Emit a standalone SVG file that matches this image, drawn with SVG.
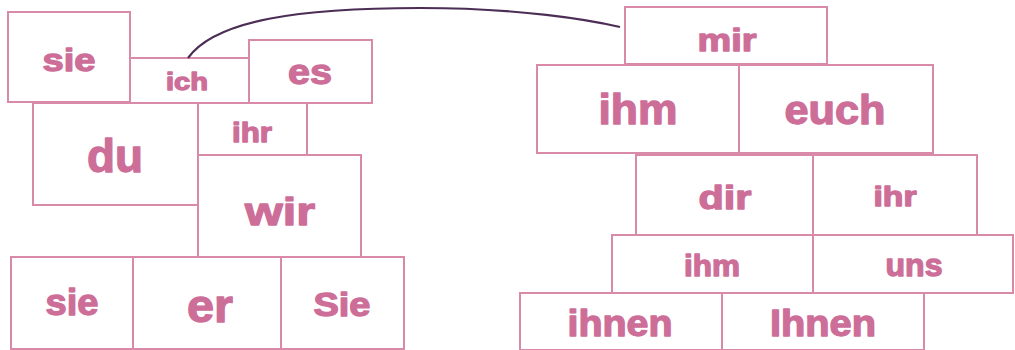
<svg xmlns="http://www.w3.org/2000/svg" width="1015" height="350" viewBox="0 0 1015 350">
<style>
.b{fill:#fff;stroke:#d98aa9;stroke-width:2}
.t{font-family:"Liberation Sans",Arial,sans-serif;font-weight:bold;fill:#cd6e99;stroke:#cd6e99;stroke-width:1.3;stroke-linejoin:round;text-anchor:middle}
.c{fill:none;stroke:#4b2d55;stroke-width:2.2}
</style>
<rect width="1015" height="350" fill="#fff"/>
<g id="sie1"><rect class="b" x="8" y="12" width="122" height="90"/><text class="t" x="69" y="71" font-size="32" textLength="53" lengthAdjust="spacingAndGlyphs">sie</text></g>
<g id="ich"><rect class="b" x="130" y="58" width="119" height="45"/><text class="t" x="187" y="90" font-size="24" textLength="42" lengthAdjust="spacingAndGlyphs">ich</text></g>
<g id="es"><rect class="b" x="249" y="40" width="123" height="63"/><text class="t" x="310" y="84" font-size="35" textLength="44" lengthAdjust="spacingAndGlyphs">es</text></g>
<g id="du"><rect class="b" x="33" y="103" width="165" height="102"/><text class="t" x="115" y="172" font-size="46" textLength="56" lengthAdjust="spacingAndGlyphs">du</text></g>
<g id="ihr1"><rect class="b" x="198" y="103" width="109" height="52"/><text class="t" x="252" y="142" font-size="28" textLength="40" lengthAdjust="spacingAndGlyphs">ihr</text></g>
<g id="wir"><rect class="b" x="198" y="155" width="163" height="102"/><text class="t" x="280" y="225" font-size="39" textLength="70" lengthAdjust="spacingAndGlyphs">wir</text></g>
<g id="sie2"><rect class="b" x="11" y="257" width="122" height="92"/><text class="t" x="72" y="315" font-size="36" textLength="53" lengthAdjust="spacingAndGlyphs">sie</text></g>
<g id="er"><rect class="b" x="133" y="257" width="148" height="92"/><text class="t" x="210" y="322" font-size="46" textLength="46" lengthAdjust="spacingAndGlyphs">er</text></g>
<g id="Sie"><rect class="b" x="281" y="257" width="123" height="92"/><text class="t" x="342" y="316" font-size="33" textLength="57" lengthAdjust="spacingAndGlyphs">Sie</text></g>
<g id="mir"><rect class="b" x="625" y="7" width="202" height="57"/><text class="t" x="727" y="51" font-size="31" textLength="59" lengthAdjust="spacingAndGlyphs">mir</text></g>
<g id="ihm1"><rect class="b" x="537" y="65" width="202" height="88"/><text class="t" x="638" y="124" font-size="42" textLength="79" lengthAdjust="spacingAndGlyphs">ihm</text></g>
<g id="euch"><rect class="b" x="739" y="65" width="194" height="88"/><text class="t" x="835" y="124" font-size="40" textLength="101" lengthAdjust="spacingAndGlyphs">euch</text></g>
<g id="dir"><rect class="b" x="636" y="155" width="177" height="80"/><text class="t" x="725" y="209" font-size="34" textLength="53" lengthAdjust="spacingAndGlyphs">dir</text></g>
<g id="ihr2"><rect class="b" x="813" y="155" width="164" height="80"/><text class="t" x="895" y="206" font-size="27" textLength="43" lengthAdjust="spacingAndGlyphs">ihr</text></g>
<g id="ihm2"><rect class="b" x="612" y="235" width="201" height="58"/><text class="t" x="712" y="276" font-size="29" textLength="56" lengthAdjust="spacingAndGlyphs">ihm</text></g>
<g id="uns"><rect class="b" x="813" y="235" width="200" height="58"/><text class="t" x="914" y="276" font-size="31" textLength="57" lengthAdjust="spacingAndGlyphs">uns</text></g>
<g id="ihnen"><rect class="b" x="520" y="293" width="202" height="57"/><text class="t" x="620" y="336" font-size="36" textLength="105" lengthAdjust="spacingAndGlyphs">ihnen</text></g>
<g id="Ihnen"><rect class="b" x="722" y="293" width="202" height="57"/><text class="t" x="823" y="336" font-size="36" textLength="106" lengthAdjust="spacingAndGlyphs">Ihnen</text></g>
<g id="connectors"><path class="c" d="M188,58 C215,20 300,8 420,8 C520,8 590,20 620,27"/></g>
</svg>
